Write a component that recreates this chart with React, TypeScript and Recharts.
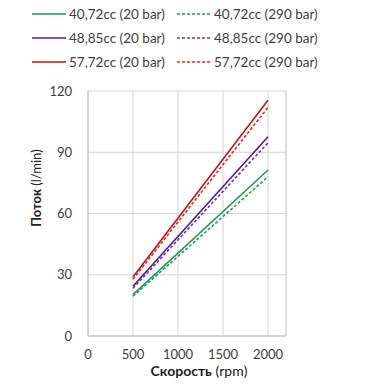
import React from "react";
import { LineChart, Line, XAxis, YAxis, CartesianGrid, ReferenceLine, Label } from "recharts";

const speeds = [500, 2000];
const flow40_20 = [20.3, 81.3];
const flow40_290 = [19.5, 78.0];
const flow48_20 = [24.4, 97.6];
const flow48_290 = [23.4, 94.6];
const flow57_20 = [28.9, 115.5];
const flow57_290 = [27.8, 112.0];

const xTicks = [0, 500, 1000, 1500, 2000];
const yTicks = [0, 30, 60, 90, 120];

const seriesNames = [
  "40,72cc (20 bar)",
  "40,72cc (290 bar)",
  "48,85cc (20 bar)",
  "48,85cc (290 bar)",
  "57,72cc (20 bar)",
  "57,72cc (290 bar)",
];

const data = speeds.map((s, i) => ({
  speed: s,
  a20: flow40_20[i],
  a290: flow40_290[i],
  b20: flow48_20[i],
  b290: flow48_290[i],
  c20: flow57_20[i],
  c290: flow57_290[i],
}));

const series = [
  { key: "a20", name: seriesNames[0], color: "#1a9c52", dash: undefined },
  { key: "a290", name: seriesNames[1], color: "#239a55", dash: "3 2" },
  { key: "b20", name: seriesNames[2], color: "#4b1c94", dash: undefined },
  { key: "b290", name: seriesNames[3], color: "#7232b0", dash: "3 2" },
  { key: "c20", name: seriesNames[4], color: "#c21414", dash: undefined },
  { key: "c290", name: seriesNames[5], color: "#e02a2a", dash: "3 2" },
];

const FONT = "Lato, 'Open Sans', sans-serif";
const TEXT = "#404040";

const legendRows = [
  [series[0], series[1]],
  [series[2], series[3]],
  [series[4], series[5]],
];

export default function App() {
  return (
    <div style={{ position: "relative", width: 370, height: 377, fontFamily: FONT }}>
      {legendRows.map((row, r) =>
        row.map((s, c) => (
          <div
            key={s.key}
            style={{
              position: "absolute",
              left: c === 0 ? 24 : 169,
              top: 6 + r * 24 - 9,
              height: 18,
              display: "flex",
              alignItems: "center",
              whiteSpace: "nowrap",
            }}
          >
            <svg width={34} height={4} style={{ marginRight: 3 }}>
              <line
                x1={0}
                y1={2}
                x2={34}
                y2={2}
                stroke={s.color}
                strokeWidth={1.6}
                strokeDasharray={s.dash}
              />
            </svg>
            <span style={{ fontSize: 13.5, color: TEXT }}>{s.name}</span>
          </div>
        ))
      )}
      <LineChart
        width={370}
        height={377}
        data={data}
        margin={{ top: 83, right: 92, bottom: 19, left: 40 }}
      >
        <CartesianGrid stroke="#d4d4d4" strokeWidth={1} />
        <ReferenceLine x={2200} stroke="#d4d4d4" strokeWidth={1} />
        <XAxis
          dataKey="speed"
          type="number"
          domain={[0, 2200]}
          ticks={xTicks}
          tickLine={false}
          axisLine={{ stroke: "#bfbfbf" }}
          tick={{ fill: TEXT, fontSize: 13, fontFamily: FONT }}
          tickMargin={8}
          height={30}
        >
          <Label
            content={() => (
              <text x={191} y={368} textAnchor="middle" fontFamily={FONT} fontSize={14} fill="#222">
                <tspan fontWeight="bold">Скорость</tspan>
                <tspan>  (rpm)</tspan>
              </text>
            )}
          />
        </XAxis>
        <YAxis
          type="number"
          domain={[0, 120]}
          ticks={yTicks}
          tickLine={false}
          axisLine={{ stroke: "#bfbfbf" }}
          tick={{ fill: TEXT, fontSize: 13, fontFamily: FONT }}
          tickMargin={10}
          width={40}
        >
          <Label
            content={() => (
              <text
                x={28}
                y={180}
                textAnchor="middle"
                dominantBaseline="central"
                transform="rotate(-90 28 180)"
                fontFamily={FONT}
                fontSize={13}
                fill="#222"
              >
                <tspan fontWeight="bold">Поток</tspan>
                <tspan> (l/min)</tspan>
              </text>
            )}
          />
        </YAxis>
        {series.map((s) => (
          <Line
            key={s.key}
            dataKey={s.key}
            name={s.name}
            type="linear"
            stroke={s.color}
            strokeWidth={1.6}
            strokeDasharray={s.dash}
            dot={false}
            isAnimationActive={false}
          />
        ))}
      </LineChart>
    </div>
  );
}
